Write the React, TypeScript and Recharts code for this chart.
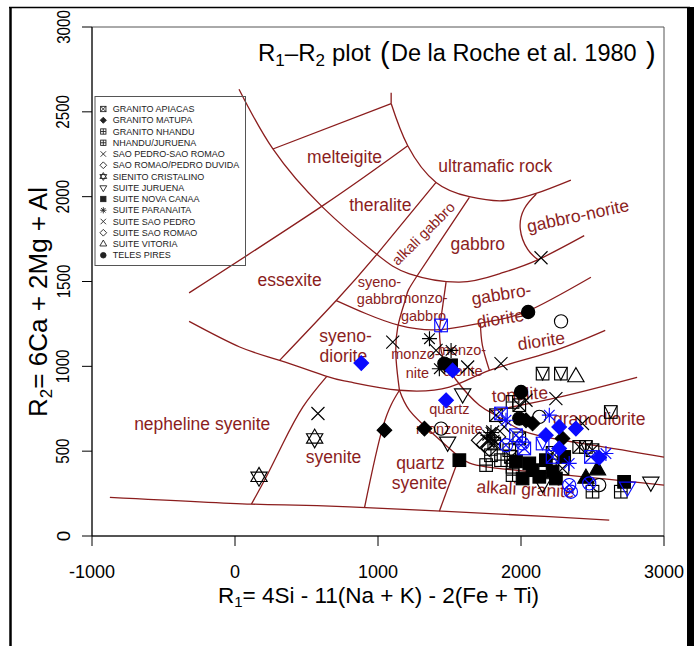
import React from "react";
import { ScatterChart, Scatter, XAxis, YAxis, ReferenceArea } from "recharts";

type Pt = [number, number];

const X_TICKS = [-1000, 0, 1000, 2000, 3000];
const Y_TICKS = [0, 500, 1000, 1500, 2000, 2500, 3000];

// field boundaries of the R1-R2 diagram, vertices as (R1, R2)
const MELTEIGITE_TOP: Pt[] = [[265, 2281], [1092, 2549]];
const ULTRAMAFIC_STEM: Pt[] = [[1092, 2613], [1092, 2549]];
const ULTRAMAFIC_BASE: Pt[] = [[1092, 2549], [1208, 2300], [1406, 2084], [1639, 2000], [1871, 1976], [2105, 2019], [2349, 2098]];
const THERALITE_TOP: Pt[] = [[-321, 1433], [614, 1947], [1208, 2300]];
const GABBRO_BASE: Pt[] = [[28, 2633], [265, 2281], [614, 1937], [987, 1663], [1220, 1545], [1569, 1496], [1848, 1545], [2105, 1623], [2442, 1770]];
const ALKALI_GABBRO_WEST: Pt[] = [[1406, 2084], [999, 1667], [708, 1388], [312, 1035]];
const MONZO_WEST: Pt[] = [[1639, 1996], [1267, 1525], [1197, 1408], [1138, 1231], [1127, 1035], [1150, 859]];
const GABBRO_NORITE_WEST: Pt[] = [[2107, 2016], [2023, 1929], [1995, 1809], [2047, 1689], [2118, 1629]];
const SYENO_GABBRO_BASE: Pt[] = [[708, 1388], [918, 1310], [1150, 1241], [1429, 1216], [1755, 1261], [2046, 1325], [2489, 1525]];
const GABBRO_DIORITE_WEST: Pt[] = [[1476, 1496], [1429, 1216]];
const SYENODIORITE_BASE: Pt[] = [[-321, 1265], [33, 1114], [312, 1035], [642, 941], [801, 908], [1150, 859], [1499, 878], [1779, 976], [2198, 1082], [2589, 1212]];
const DIORITE_WEST: Pt[] = [[1716, 1255], [1730, 1123], [1779, 976]];
const NEPHELINE_EAST: Pt[] = [[642, 941], [475, 761], [335, 545], [219, 349], [115, 188]];
const BASE_LINE: Pt[] = [[-875, 228], [115, 188], [801, 172], [2198, 114], [2617, 94]];
const QUARTZ_SYENITE_WEST: Pt[] = [[1150, 859], [1034, 643], [906, 168]];
const ALKALI_GRANITE_TOP: Pt[] = [[1150, 859], [1220, 741], [1383, 604], [1569, 466], [1755, 408], [2198, 369], [2600, 335], [3000, 300]];
const QUARTZ_SYENITE_EAST: Pt[] = [[1569, 466], [1429, 146]];
const GRANODIORITE_BASE: Pt[] = [[1429, 1216], [1450, 1065], [1548, 918], [1709, 771], [1848, 700], [2058, 606], [2500, 536], [3000, 465]];
const TONALITE_BASE: Pt[] = [[1779, 735], [2267, 818], [2812, 935]];

const FIELD_LINES: Pt[][] = [
  MELTEIGITE_TOP, ULTRAMAFIC_STEM, ULTRAMAFIC_BASE, THERALITE_TOP, GABBRO_BASE,
  ALKALI_GABBRO_WEST, MONZO_WEST, GABBRO_NORITE_WEST, SYENO_GABBRO_BASE,
  GABBRO_DIORITE_WEST, SYENODIORITE_BASE, DIORITE_WEST, NEPHELINE_EAST, BASE_LINE,
  QUARTZ_SYENITE_WEST, ALKALI_GRANITE_TOP, QUARTZ_SYENITE_EAST, GRANODIORITE_BASE, TONALITE_BASE,
];

const FIELD_LABELS = [
  { text: "melteigite", r1: 766, r2: 2196 },
  { text: "theralite", r1: 1016, r2: 1913 },
  { text: "ultramafic rock", r1: 1820, r2: 2144 },
  { text: "gabbro", r1: 1698, r2: 1688 },
  { text: "gabbro-norite", r1: 2407, r2: 1853 },
  { text: "essexite", r1: 382, r2: 1476 },
  { text: "gabbro-", r1: 1869, r2: 1390 },
  { text: "diorite", r1: 1862, r2: 1247 },
  { text: "diorite", r1: 2148, r2: 1115 },
  { text: "syeno-", r1: 773, r2: 1143 },
  { text: "diorite", r1: 758, r2: 1025 },
  { text: "quartz", r1: 1297, r2: 394 },
  { text: "syenite", r1: 1290, r2: 276 },
  { text: "syenite", r1: 689, r2: 429 },
  { text: "nepheline syenite", r1: -229, r2: 623 },
  { text: "tonalite", r1: 1995, r2: 800 },
  { text: "granodiorite", r1: 2547, r2: 653 },
  { text: "alkali granite", r1: 2030, r2: 241 },
];

const SMALL_LABELS = [
  { text: "alkali gabbro", r1: 1342, r2: 1761 },
  { text: "syeno-", r1: 1010, r2: 1465 },
  { text: "gabbro", r1: 1010, r2: 1365 },
  { text: "monzo-", r1: 1318, r2: 1371 },
  { text: "gabbro", r1: 1318, r2: 1266 },
  { text: "monzo-", r1: 1262, r2: 1041 },
  { text: "nite", r1: 1276, r2: 929 },
  { text: "monzo-", r1: 1587, r2: 1065 },
  { text: "diorite", r1: 1594, r2: 941 },
  { text: "quartz", r1: 1499, r2: 718 },
  { text: "monzonite", r1: 1499, r2: 600 },
];

// tilt of a few labels, keyed by "text@r1"
const LABEL_TILT: Record<string, number> = {
  "gabbro-norite@2407": -12,
  "alkali gabbro@1342": -45,
  "gabbro-@1869": -9,
  "diorite@1862": -9,
  "diorite@2148": -8,
  "tonalite@1995": -4,
  "alkali granite@2030": 3,
};

// samples (R1, R2)
const GRANITO_APIACAS: Pt[] = [[2407, 525], [2500, 506], [1988, 575], [1930, 466], [1825, 712], [2290, 398], [1813, 545], [2221, 490], [1988, 771]];
const GRANITO_MATUPA: Pt[] = [[1045, 624], [1325, 633], [2035, 682], [2081, 663], [2290, 575]];
const GRANITO_NHANDU: Pt[] = [[1756, 418], [1941, 790], [2698, 261], [2500, 261], [1941, 359], [1941, 408], [1790, 476], [1918, 506], [1860, 447]];
const NHANDU_JURUENA: Pt[] = [[2151, 957], [2279, 957], [2628, 731], [2454, 525]];
const SAO_PEDRO_SAO_ROMAO: Pt[] = [[580, 722], [1103, 1143], [1406, 1094], [1627, 996], [2140, 1640], [1802, 613]];
const SAO_ROMAO_PEDRO_DUVIDA: Pt[] = [[1709, 565], [1779, 516]];
const SIENITO_CRISTALINO: Pt[] = [[168, 349], [557, 575]];
const SUITE_JURUENA: Pt[] = [[1592, 839], [1487, 555], [2908, 319], [2151, 310]];
const SUITE_NOVA_CANAA: Pt[] = [[1511, 1006], [1569, 447], [2721, 319], [2244, 339], [2128, 349], [2011, 339], [2058, 428], [2174, 447], [2302, 466], [2081, 388], [2221, 380], [1965, 440]];
const SUITE_PARANAITA: Pt[] = [[1360, 1163], [1511, 1094], [1429, 986], [1767, 594], [1813, 565], [1790, 610]];
const SUITE_SAO_PEDRO: Pt[] = [[1860, 1016], [2244, 810], [2035, 800], [2430, 663], [1883, 643], [1767, 560]];
const SUITE_SAO_ROMAO: Pt[] = [[1837, 584], [1744, 540]];
const SUITE_VITORIA: Pt[] = [[2384, 937]];
const SUITE_VITORIA_SOLID: Pt[] = [[2535, 388], [2454, 339]];
const TELES_PIRES: Pt[] = [[2050, 1320], [2000, 849], [1988, 692], [1464, 1016]];
const TELES_PIRES_OPEN: Pt[] = [[2280, 1265], [1441, 633], [2128, 702], [2547, 300]];

// second sample set
const MATUPA_SET2: Pt[] = [[883, 1019], [1522, 976], [1476, 800], [2267, 643], [2384, 633], [2174, 594], [2267, 516], [2547, 462]];
const APIACAS_SET2: Pt[] = [[1860, 722], [2489, 466], [2221, 466], [2023, 516], [1965, 594]];
const TELES_PIRES_SET2: Pt[] = [[2477, 310], [2337, 300], [2349, 261], [1895, 535], [2011, 545]];
const PARANAITA_SET2: Pt[] = [[1895, 682], [2198, 712], [2594, 486], [2337, 428]];
const JURUENA_SET2: Pt[] = [[2744, 290]];
const NHANDU_JURUENA_SET2: Pt[] = [[1441, 1241], [2151, 545]];

type Kind =
  | "squareX" | "diamond" | "squarePlus" | "squareV" | "cross" | "diamondOpen"
  | "star6" | "triDown" | "square" | "asterisk" | "triUp" | "triUpSolid"
  | "circle" | "circleOpen" | "circleX";

const BLACK = "#000";
const BLUE = "#0a0aff";
const FIELD_COLOR = "#8b1d1d";
const FONT = "'Liberation Sans', Arial, Helvetica, sans-serif";

const SERIES: { name: string; data: Pt[]; kind: Kind; color: string }[] = [
  { name: "GRANITO APIACAS", data: GRANITO_APIACAS, kind: "squareX", color: BLACK },
  { name: "GRANITO MATUPA", data: GRANITO_MATUPA, kind: "diamond", color: BLACK },
  { name: "GRANITO NHANDU", data: GRANITO_NHANDU, kind: "squarePlus", color: BLACK },
  { name: "NHANDU/JURUENA", data: NHANDU_JURUENA, kind: "squareV", color: BLACK },
  { name: "SAO PEDRO-SAO ROMAO", data: SAO_PEDRO_SAO_ROMAO, kind: "cross", color: BLACK },
  { name: "SAO ROMAO/PEDRO DUVIDA", data: SAO_ROMAO_PEDRO_DUVIDA, kind: "diamondOpen", color: BLACK },
  { name: "SIENITO CRISTALINO", data: SIENITO_CRISTALINO, kind: "star6", color: BLACK },
  { name: "SUITE JURUENA", data: SUITE_JURUENA, kind: "triDown", color: BLACK },
  { name: "SUITE NOVA CANAA", data: SUITE_NOVA_CANAA, kind: "square", color: BLACK },
  { name: "SUITE PARANAITA", data: SUITE_PARANAITA, kind: "asterisk", color: BLACK },
  { name: "SUITE SAO PEDRO", data: SUITE_SAO_PEDRO, kind: "cross", color: BLACK },
  { name: "SUITE SAO ROMAO", data: SUITE_SAO_ROMAO, kind: "diamondOpen", color: BLACK },
  { name: "SUITE VITORIA", data: SUITE_VITORIA, kind: "triUp", color: BLACK },
  { name: "SUITE VITORIA", data: SUITE_VITORIA_SOLID, kind: "triUpSolid", color: BLACK },
  { name: "TELES PIRES", data: TELES_PIRES, kind: "circle", color: BLACK },
  { name: "TELES PIRES", data: TELES_PIRES_OPEN, kind: "circleOpen", color: BLACK },
  { name: "GRANITO MATUPA 2", data: MATUPA_SET2, kind: "diamond", color: BLUE },
  { name: "GRANITO APIACAS 2", data: APIACAS_SET2, kind: "squareX", color: BLUE },
  { name: "TELES PIRES 2", data: TELES_PIRES_SET2, kind: "circleX", color: BLUE },
  { name: "SUITE PARANAITA 2", data: PARANAITA_SET2, kind: "asterisk", color: BLUE },
  { name: "SUITE JURUENA 2", data: JURUENA_SET2, kind: "triDown", color: BLUE },
  { name: "NHANDU/JURUENA 2", data: NHANDU_JURUENA_SET2, kind: "squareV", color: BLUE },
];

const LEGEND: { label: string; kind: Kind }[] = [
  { label: "GRANITO APIACAS", kind: "squareX" },
  { label: "GRANITO MATUPA", kind: "diamond" },
  { label: "GRANITO NHANDU", kind: "squarePlus" },
  { label: "NHANDU/JURUENA", kind: "squarePlus" },
  { label: "SAO PEDRO-SAO ROMAO", kind: "cross" },
  { label: "SAO ROMAO/PEDRO DUVIDA", kind: "diamondOpen" },
  { label: "SIENITO CRISTALINO", kind: "star6" },
  { label: "SUITE JURUENA", kind: "triDown" },
  { label: "SUITE NOVA CANAA", kind: "square" },
  { label: "SUITE PARANAITA", kind: "asterisk" },
  { label: "SUITE SAO PEDRO", kind: "cross" },
  { label: "SUITE SAO ROMAO", kind: "diamondOpen" },
  { label: "SUITE VITORIA", kind: "triUp" },
  { label: "TELES PIRES", kind: "circle" },
];

function Marker({ cx, cy, kind, color, k = 1, sw = 1.15 }: { cx: number; cy: number; kind: Kind; color: string; k?: number; sw?: number }) {
  const h = 6.3 * k;
  const line = { stroke: color, strokeWidth: sw, fill: "none" };
  const tri = (up: boolean) => {
    const R = 9.4 * k;
    const s = up ? -1 : 1;
    return `${cx - 0.866 * R},${cy - s * 0.5 * R} ${cx + 0.866 * R},${cy - s * 0.5 * R} ${cx},${cy + s * R}`;
  };
  switch (kind) {
    case "square":
      return <rect x={cx - h} y={cy - h} width={2 * h} height={2 * h} fill={color} stroke={color} strokeWidth={sw} />;
    case "squareX":
      return (
        <g {...line}>
          <rect x={cx - h} y={cy - h} width={2 * h} height={2 * h} />
          <path d={`M${cx - h},${cy - h}L${cx + h},${cy + h}M${cx + h},${cy - h}L${cx - h},${cy + h}`} />
        </g>
      );
    case "squarePlus":
      return (
        <g {...line}>
          <rect x={cx - h} y={cy - h} width={2 * h} height={2 * h} />
          <path d={`M${cx - h},${cy}L${cx + h},${cy}M${cx},${cy - h}L${cx},${cy + h}`} />
        </g>
      );
    case "squareV":
      return (
        <g {...line}>
          <rect x={cx - h} y={cy - h} width={2 * h} height={2 * h} />
          <path d={`M${cx - h},${cy - h}L${cx},${cy + h}L${cx + h},${cy - h}`} />
        </g>
      );
    case "cross": {
      const c = 6.5 * k;
      return <path {...line} d={`M${cx - c},${cy - c}L${cx + c},${cy + c}M${cx + c},${cy - c}L${cx - c},${cy + c}`} />;
    }
    case "asterisk": {
      const r = 7.5 * k;
      const d = r * 0.707;
      return (
        <path
          {...line}
          d={`M${cx - r},${cy}L${cx + r},${cy}M${cx},${cy - r}L${cx},${cy + r}M${cx - d},${cy - d}L${cx + d},${cy + d}M${cx + d},${cy - d}L${cx - d},${cy + d}`}
        />
      );
    }
    case "diamond": {
      const r = 7.3 * k;
      return <polygon points={`${cx},${cy - r} ${cx + r},${cy} ${cx},${cy + r} ${cx - r},${cy}`} fill={color} stroke={color} strokeWidth={sw} />;
    }
    case "diamondOpen": {
      const r = 8 * k;
      return <polygon {...line} points={`${cx},${cy - r} ${cx + r},${cy} ${cx},${cy + r} ${cx - r},${cy}`} />;
    }
    case "triDown":
      return <polygon {...line} points={tri(false)} />;
    case "triUp":
      return <polygon {...line} points={tri(true)} />;
    case "triUpSolid":
      return <polygon points={tri(true)} fill={color} stroke={color} strokeWidth={sw} />;
    case "star6":
      return (
        <g {...line}>
          <polygon points={tri(true)} />
          <polygon points={tri(false)} />
        </g>
      );
    case "circle":
      return <circle cx={cx} cy={cy} r={6.6 * k} fill={color} stroke={color} strokeWidth={sw} />;
    case "circleOpen":
      return <circle {...line} cx={cx} cy={cy} r={6.6 * k} />;
    case "circleX": {
      const r = 6.6 * k;
      const d = r * 0.707;
      return (
        <g {...line}>
          <circle cx={cx} cy={cy} r={r} />
          <path d={`M${cx - d},${cy - d}L${cx + d},${cy + d}M${cx + d},${cy - d}L${cx - d},${cy + d}`} />
        </g>
      );
    }
    default:
      return null;
  }
}

const toXY = (pts: Pt[]) => pts.map(([x, y]) => ({ x, y }));

const labelData = (rows: { text: string; r1: number; r2: number }[]) =>
  rows.map((r) => ({ x: r.r1, y: r.r2, text: r.text, tilt: LABEL_TILT[`${r.text}@${r.r1}`] || 0 }));

const renderLabel = (size: number) => (p: any) => {
  const { cx, cy, payload } = p;
  return (
    <text
      x={cx}
      y={cy}
      textAnchor="middle"
      fontSize={size}
      fill={FIELD_COLOR}
      transform={payload.tilt ? `rotate(${payload.tilt} ${cx} ${cy})` : undefined}
    >
      {payload.text}
    </text>
  );
};

const YTick = (p: any) => {
  const v = String(p.payload.value);
  const fit = v.length > 1 ? { textLength: v.length * 8.4, lengthAdjust: "spacingAndGlyphs" } : {};
  return (
    <text
      x={p.x}
      y={p.y}
      transform={`rotate(-90 ${p.x} ${p.y})`}
      textAnchor="middle"
      dominantBaseline="central"
      fontSize={19}
      fill="#000"
      {...fit}
    >
      {v}
    </text>
  );
};

export default function App() {
  return (
    <div
      style={{
        position: "absolute",
        left: 0,
        top: 0,
        width: 700,
        height: 646,
        background: "#fff",
        fontFamily: FONT,
        overflow: "hidden",
      }}
    >
      <ScatterChart width={700} height={646} margin={{ top: 27, right: 36, bottom: 80, left: 52 }}>
        <XAxis
          type="number"
          dataKey="x"
          domain={[-1000, 3000]}
          ticks={X_TICKS}
          interval={0}
          allowDataOverflow
          height={30}
          tickSize={10}
          tickMargin={19}
          tick={{ fill: "#000", fontSize: 18 }}
          axisLine={{ stroke: "#000" }}
          tickLine={{ stroke: "#000" }}
        />
        <YAxis
          type="number"
          dataKey="y"
          domain={[0, 3000]}
          ticks={Y_TICKS}
          interval={0}
          allowDataOverflow
          width={40}
          tickSize={10}
          tickMargin={19}
          tick={YTick}
          axisLine={{ stroke: "#000" }}
          tickLine={{ stroke: "#000" }}
        />
        <ReferenceArea x1={-1000} x2={3000} y1={0} y2={3000} fill="none" stroke="#555" strokeWidth={1} ifOverflow="visible" />

        {FIELD_LINES.map((pts, i) => (
          <Scatter
            key={`field-${i}`}
            data={toXY(pts)}
            fill={FIELD_COLOR}
            line={{ stroke: FIELD_COLOR, strokeWidth: 1.3 }}
            lineType="joint"
            lineJointType="natural"
            shape={() => <g />}
            isAnimationActive={false}
          />
        ))}

        <Scatter data={labelData(FIELD_LABELS)} shape={renderLabel(17.5)} isAnimationActive={false} />
        <Scatter data={labelData(SMALL_LABELS)} shape={renderLabel(14.5)} isAnimationActive={false} />

        {SERIES.map((s, i) => (
          <Scatter
            key={`s-${i}`}
            name={s.name}
            data={toXY(s.data)}
            shape={(p: any) => <Marker cx={p.cx} cy={p.cy} kind={s.kind} color={s.color} />}
            isAnimationActive={false}
          />
        ))}
      </ScatterChart>

      <svg width={700} height={646} style={{ position: "absolute", left: 0, top: 0, pointerEvents: "none" }}>
        {/* outer frame */}
        <line x1={9} y1={7.5} x2={690} y2={7.5} stroke="#000" strokeWidth={1.5} />
        <line x1={10.5} y1={7} x2={10.5} y2={646} stroke="#000" strokeWidth={2.5} />
        <rect x={687} y={7} width={7} height={639} fill="#000" />

        {/* title */}
        <text x={258} y={61} fontSize={24} fill="#000">
          R<tspan fontSize={17} dy={5}>1</tspan>
          <tspan dy={-5}>–R</tspan>
          <tspan fontSize={17} dy={5}>2</tspan>
        </text>
        <text x={332} y={61} fontSize={24} fill="#000">plot</text>
        <text x={380} y={63} fontSize={29} fill="#000">(</text>
        <text x={391} y={61} fontSize={23.5} fill="#000">De la Roche et al. 1980</text>
        <text x={646} y={63} fontSize={29} fill="#000">)</text>

        {/* axis titles */}
        <text x={378.5} y={603} textAnchor="middle" fontSize={22.5} fill="#000">
          R<tspan fontSize={15} dy={4}>1</tspan>
          <tspan dy={-4}>= 4Si - 11(Na + K) - 2(Fe + Ti)</tspan>
        </text>
        <text transform="translate(47,302) rotate(-90)" textAnchor="middle" fontSize={26} fill="#000">
          R<tspan fontSize={17} dy={5}>2</tspan>
          <tspan dy={-5}>= 6Ca + 2Mg + Al</tspan>
        </text>

        {/* legend */}
        <rect x={95} y={96.5} width={150.5} height={169} fill="none" stroke="#555" strokeWidth={1} />
        {LEGEND.map((item, i) => {
          const cy = 109 + i * 11.25;
          return (
            <g key={item.label}>
              <Marker cx={103.3} cy={cy} kind={item.kind} color="#222" k={0.42} sw={0.9} />
              <text x={112.7} y={cy + 3.2} fontSize={9} fill="#222">
                {item.label}
              </text>
            </g>
          );
        })}
      </svg>
    </div>
  );
}
